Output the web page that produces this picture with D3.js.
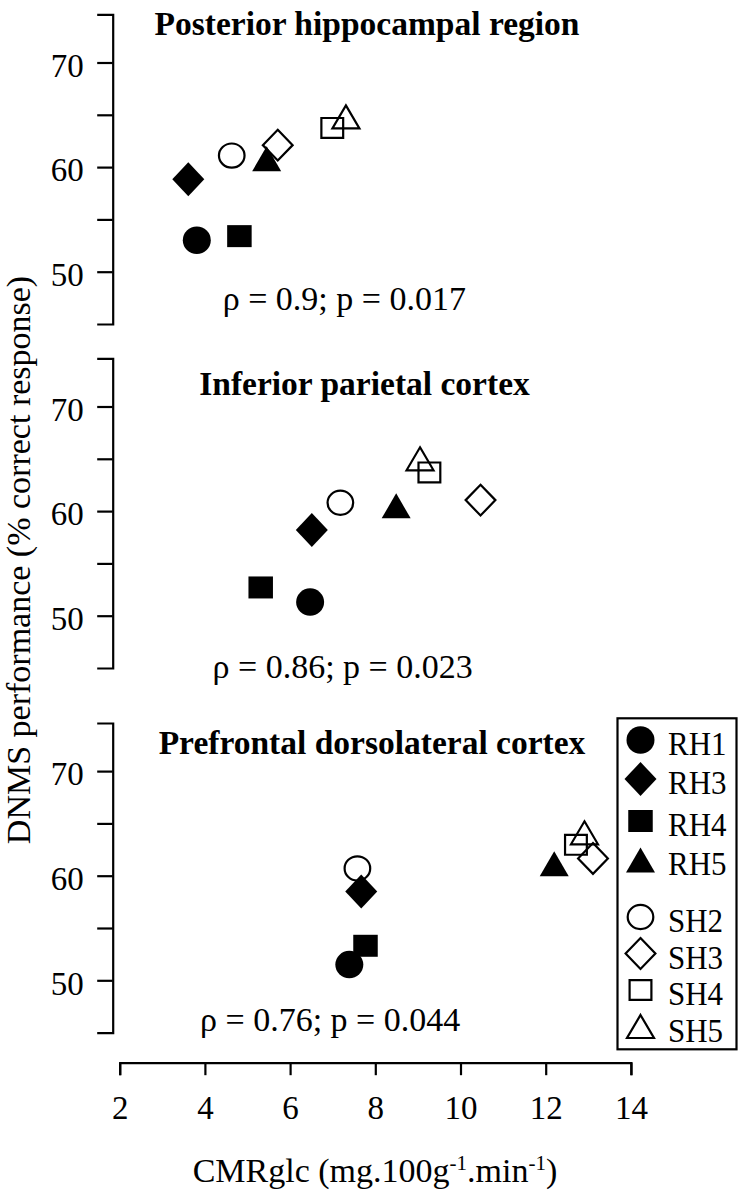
<!DOCTYPE html>
<html>
<head>
<meta charset="utf-8">
<script src="https://cdn.jsdelivr.net/npm/d3@7"></script>
<style>
  html, body { margin: 0; padding: 0; background: #fff; }
  svg text { font-family: "Liberation Serif", "Times New Roman", serif; fill: #000; }
</style>
</head>
<body>
<svg id="chart" width="740" height="1199"></svg>
<script>
// ---- data ----
const subjects = ["RH1", "RH3", "RH4", "RH5", "SH2", "SH3", "SH4", "SH5"];
const shapes   = ["circle", "diamond", "square", "triangle", "circle", "diamond", "square", "triangle"];
const filled   = [true, true, true, true, false, false, false, false];

const regions = ["Posterior hippocampal region", "Inferior parietal cortex", "Prefrontal dorsolateral cortex"];
const stats   = ["\u03C1 = 0.9; p = 0.017", "\u03C1 = 0.86; p = 0.023", "\u03C1 = 0.76; p = 0.044"];

const hippoX      = [3.81, 3.61, 4.81, 5.45, 4.63, 5.71, 6.99, 7.31];
const hippoY      = [53.0, 58.85, 53.4, 60.8, 61.1, 62.1, 63.75, 64.8];
const parietalX   = [6.47, 6.51, 5.31, 8.49, 7.18, 10.47, 9.27, 9.05];
const parietalY   = [51.3, 58.2, 52.7, 60.5, 60.8, 61.05, 63.7, 65.0];
const prefrontalX = [7.39, 7.67, 7.77, 12.20, 7.58, 13.11, 12.71, 12.91];
const prefrontalY = [51.5, 58.5, 53.3, 61.15, 60.7, 61.65, 62.95, 64.1];

const xTicks = [2, 4, 6, 8, 10, 12, 14];
const yTicks = [50, 55, 60, 65, 70];
const yLabels = [50, 60, 70];
const yDomain = [45, 74.6];
const xDomain = [2, 14];

const panelX = [hippoX, parietalX, prefrontalX];
const panelY = [hippoY, parietalY, prefrontalY];

// ---- layout ----
const svg = d3.select("#chart");
const SW = 2.2;
const yAxisX = 112.7;
const y50 = [271.7, 615.7, 980.3];
const pxPerUnit = 10.46;
const titleCX = [367, 364.5, 372];
const titleBase = [35, 395, 754];
const statsStartX = [222.7, 212.5, 200];
const statsBase = [310, 678, 1031];

const x = d3.scaleLinear().domain(xDomain).range([119.7, 630.9]);

// symbol path centred on bbox centre
function shapePath(shape, w, h) {
  const hw = w / 2, hh = h / 2;
  if (shape === "circle") {
    return `M${-hw},0A${hw},${hh} 0 1,0 ${hw},0A${hw},${hh} 0 1,0 ${-hw},0Z`;
  } else if (shape === "square") {
    return `M${-hw},${-hh}H${hw}V${hh}H${-hw}Z`;
  } else if (shape === "diamond") {
    return `M0,${-hh}L${hw},0L0,${hh}L${-hw},0Z`;
  } else {
    return `M0,${-hh}L${hw},${hh}L${-hw},${hh}Z`;
  }
}
const sizeFilled = { circle: [28, 27.5], square: [24.5, 22], diamond: [32, 34], triangle: [29, 25] };
const sizeOpen   = { circle: [25.6, 24.2], square: [21.8, 19.8], diamond: [29.8, 30.8], triangle: [27, 23] };

function drawMarker(g, i, cx, cy) {
  const s = shapes[i];
  if (filled[i]) {
    const [w, h] = sizeFilled[s];
    g.append("path").attr("d", shapePath(s, w, h))
      .attr("transform", `translate(${cx},${cy})`)
      .attr("fill", "#000").attr("stroke", "none");
  } else {
    const [w, h] = sizeOpen[s];
    g.append("path").attr("d", shapePath(s, w, h))
      .attr("transform", `translate(${cx},${cy})`)
      .attr("fill", "none").attr("stroke", "#000").attr("stroke-width", SW)
      .attr("stroke-linejoin", "miter");
  }
}

regions.forEach((name, p) => {
  const y = d3.scaleLinear().domain(yDomain)
    .range([y50[p] + 5 * pxPerUnit, y50[p] - (yDomain[1] - 50) * pxPerUnit]);
  const g = svg.append("g");

  const axis = d3.axisLeft(y).tickValues(yTicks).tickSize(15.5).tickSizeOuter(15.5)
    .tickFormat(d => yLabels.includes(d) ? d : "");
  const ag = g.append("g").attr("transform", `translate(${yAxisX},0)`).call(axis);
  ag.select(".domain").attr("stroke", "#000").attr("stroke-width", SW).attr("fill", "none");
  ag.selectAll(".tick line").attr("stroke", "#000").attr("stroke-width", SW);
  ag.selectAll(".tick text").attr("x", -29).attr("dy", "0.42em")
    .attr("font-size", 33).attr("font-family", "Liberation Serif, Times New Roman, serif").attr("fill", "#000");

  g.append("text").attr("x", titleCX[p]).attr("y", titleBase[p])
    .attr("text-anchor", "middle").attr("font-size", 33.5).attr("font-weight", "bold").text(name);

  g.append("text").attr("x", statsStartX[p]).attr("y", statsBase[p])
    .attr("font-size", 34).text(stats[p]);

  const xs = panelX[p], ys = panelY[p];
  // open symbols first, filled on top
  const order = [4, 5, 6, 7, 0, 1, 2, 3];
  order.forEach(i => drawMarker(g, i, x(xs[i]), y(ys[i])));
});

// x axis
const xAxis = d3.axisBottom(x).tickValues(xTicks).tickSize(12.5).tickSizeOuter(12.5);
const xg = svg.append("g").attr("transform", "translate(0,1062.7)").call(xAxis);
xg.select(".domain").attr("stroke", "#000").attr("stroke-width", SW).attr("fill", "none");
xg.selectAll(".tick line").attr("stroke", "#000").attr("stroke-width", SW);
xg.selectAll(".tick text").attr("y", 56).attr("dy", 0)
  .attr("font-size", 33).attr("font-family", "Liberation Serif, Times New Roman, serif").attr("fill", "#000");

// x title
const xt = svg.append("text").attr("x", 375).attr("y", 1182).attr("text-anchor", "middle").attr("font-size", 34);
xt.append("tspan").text("CMRglc (mg.100g");
xt.append("tspan").attr("font-size", 21).attr("dy", -12).text("-1");
xt.append("tspan").attr("dy", 12).text(".min");
xt.append("tspan").attr("font-size", 21).attr("dy", -12).text("-1");
xt.append("tspan").attr("dy", 12).text(")");

// y title
svg.append("text").attr("transform", "translate(30,560) rotate(-90)")
  .attr("text-anchor", "middle").attr("font-size", 34)
  .text("DNMS performance (% correct response)");

// legend
const lg = svg.append("g");
lg.append("rect").attr("x", 617.5).attr("y", 718.3).attr("width", 119).attr("height", 331)
  .attr("fill", "#fff").attr("stroke", "#000").attr("stroke-width", SW);
const legMarkY = [740, 779, 821, 860, 917, 953.5, 990, 1026.5];
subjects.forEach((s, i) => {
  drawMarker(lg, i, 640.5, legMarkY[i]);
  lg.append("text").attr("transform", `translate(668,${legMarkY[i] + 15}) scale(1,1.1)`)
    .attr("font-size", 31).text(s);
});
</script>
</body>
</html>
